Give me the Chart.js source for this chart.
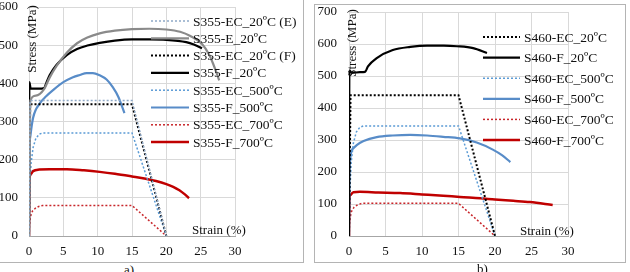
<!DOCTYPE html>
<html>
<head>
<meta charset="utf-8">
<script src="https://cdn.jsdelivr.net/npm/chart.js@4/dist/chart.umd.min.js"></script>
<style>
  body { margin: 0; background: #fff; width: 630px; height: 272px; overflow: hidden; position: relative; font-family: 'Liberation Serif', serif; }
  .box { position: absolute; border: 1px solid #b4b4b4; background: #fff; }
  .cap { position: absolute; font-size: 13px; color: #111; }
</style>
</head>
<body>
<div class="box" style="left:-10px; top:-1px; width:312px; height:262px;">
  <canvas id="chartA" width="312" height="262"></canvas>
</div>
<div class="box" style="left:314px; top:4px; width:310px; height:257px;">
  <canvas id="chartB" width="310" height="257"></canvas>
</div>
<div class="cap" style="left:124px; top:262px;">a)</div>
<div class="cap" style="left:477px; top:261px;">b)</div>

<script>
// 軸範圍
var xMax = 30, xStep = 5;
var yMaxA = 600, yMaxB = 700, yStep = 100;

// S355 曲線 [應變 %, 應力 MPa]
var S355_EC_20_E = [[0,0],[0.17,355],[15,355],[20,0]];
var S355_E_20 = [[0,0],[0.2,355],[1,368],[2.2,385],[3,415],[4,445],[5.5,480],[7,505],[8.5,520],[10.3,531],[12.5,538],[15,542],[17.5,543],[20,541],[22,535],[23.5,524],[25.2,503],[26.2,476],[26.8,452],[27.7,408]];
var S355_EC_20_F = [[0,0],[0.17,345],[15,345],[20,0]];
var S355_F_20 = [[0,0],[0.05,403],[0.25,386],[1.5,386],[2.2,388],[2.5,400],[3,421],[4,448],[5.5,474],[7,490],[8.5,499],[10.3,506],[12.5,512],[15,515],[17.5,515],[20,514],[22.9,508],[24,502],[25.2,492]];
var S355_EC_500 = [[0,0],[0.1,128],[0.3,190],[0.6,232],[1,256],[1.5,267],[2,270],[15,270],[20,0]];
var S355_F_500 = [[0,0],[0.05,200],[0.2,262],[0.6,310],[1.6,348],[2.5,366],[3.5,382],[5,403],[6.4,416],[7.4,422],[8.4,427],[9.3,427],[10.3,421],[11.3,410],[12.2,390],[13,365],[13.9,322]];
var S355_EC_700 = [[0,0],[0.05,28],[0.2,50],[0.5,65],[1,74],[1.5,78],[2,80],[15,80],[20,0]];
var S355_F_700 = [[0,0],[0.05,140],[0.2,160],[0.6,170],[1.5,174],[3,175],[5.5,175],[8,172],[10.3,168],[12.5,163],[15,156],[17,150],[18.5,144],[20,136],[21,129],[21.9,120],[22.7,109],[23.3,99]];

// S460 曲線
var S460_EC_20 = [[0,0],[0.21,440],[15,440],[20,0]];
var S460_F_20 = [[0,0],[0.05,518],[0.4,510],[1.5,512],[2.2,513],[2.6,530],[3.8,556],[6,581],[8.4,591],[10.7,595],[13,595],[14.8,593],[17,587],[18.9,572]];
var S460_EC_500 = [[0,0],[0.1,130],[0.3,230],[0.6,290],[1,325],[1.5,340],[2,344],[15,344],[20,0]];
var S460_F_500 = [[0,0],[0.05,150],[0.2,247],[0.6,274],[1.1,285],[2,297],[3.8,309],[6,314],[8.4,316],[10.7,314],[12.9,310],[15.2,305],[17.5,292],[19.7,270],[21,252],[22.1,231]];
var S460_EC_700 = [[0,0],[0.05,40],[0.3,75],[0.7,90],[1.2,98],[1.8,102],[15,102],[20,0]];
var S460_F_700 = [[0,0],[0.05,110],[0.2,128],[0.6,137],[1.5,138],[4,136],[7,134],[10,130],[12.9,126],[15.2,122],[18,118],[20,114],[22.5,110],[24.8,106],[27.9,97]];

// 線條樣式
var BLACK = '#000000', GREY = '#8a8a8a', BLUE_D = '#5b9bd5', BLUE = '#588cc8', RED_D = '#c8262b', RED = '#c00000', BLUEGREY = '#8ea9c8';
var FONT = "'Liberation Serif', 'Times New Roman', serif";

function series(label, pts, color, dotted, width) {
    return {
        label: label,
        data: pts.map(function (p) { return { x: p[0], y: p[1] }; }),
        borderColor: color,
        backgroundColor: color,
        borderWidth: width,
        borderDash: dotted ? [2, 2] : [],
        pointRadius: 0,
        fill: false,
        tension: 0,
        cubicInterpolationMode: dotted ? 'default' : 'monotone'
    };
}

//圖例與軸標題
var overlay = {
    id: 'overlay',
    afterDatasetsDraw: function (chart, args, opt) {
        var ctx = chart.ctx;
        ctx.save();
        ctx.font = '13.5px ' + FONT;
        ctx.fillStyle = '#111';
        ctx.textBaseline = 'middle';
        chart.data.datasets.forEach(function (ds, i) {
            var y = opt.legendY + i * opt.rowH;
            ctx.beginPath();
            ctx.strokeStyle = ds.borderColor;
            ctx.lineWidth = ds.borderWidth;
            ctx.setLineDash(ds.borderDash);
            ctx.moveTo(opt.legendX, y);
            ctx.lineTo(opt.legendX + opt.sampleW, y);
            ctx.stroke();
            ctx.setLineDash([]);
            ctx.textAlign = 'left';
            ctx.fillText(ds.label, opt.legendX + opt.sampleW + 4, y + 1);
        });
        ctx.font = '13px ' + FONT;
        // Strain (%)
        ctx.textAlign = 'left';
        ctx.fillText('Strain (%)', opt.strainX, opt.strainY);
        // Stress (MPa)
        ctx.translate(opt.stressX, opt.stressY);
        ctx.rotate(-Math.PI / 2);
        ctx.textAlign = 'center';
        ctx.fillText('Stress (MPa)', 0, 0);
        ctx.restore();
    }
};

function makeChart(id, datasets, yMax, yW, xH, padR, yPad, ov) {
    return new Chart(document.getElementById(id), {
        type: 'line',
        data: { datasets: datasets },
        options: {
            responsive: false,
            animation: false,
            layout: { padding: { left: 0, right: padR, top: 7, bottom: 0 } },
            plugins: { legend: { display: false }, tooltip: { enabled: false }, overlay: ov },
            scales: {
                x: {
                    type: 'linear', min: 0, max: xMax,
                    ticks: { stepSize: xStep, color: '#111', font: { family: FONT, size: 13 }, padding: 8 },
                    grid: { color: '#d9d9d9', drawTicks: false },
                    border: { color: '#a6a6a6' },
                    afterFit: function (s) { s.height = xH; s.paddingLeft = 0; s.paddingRight = 0; }
                },
                y: {
                    min: 0, max: yMax,
                    ticks: { stepSize: yStep, color: '#111', font: { family: FONT, size: 13 }, padding: yPad },
                    grid: { color: '#d9d9d9', drawTicks: false },
                    border: { display: false },
                    afterFit: function (s) { s.width = yW; s.paddingTop = 0; s.paddingBottom = 0; }
                }
            }
        },
        plugins: [overlay]
    });
}

makeChart('chartA', [
    series('S355-EC_20ºC (E)', S355_EC_20_E, BLUEGREY, true, 1.5),
    series('S355-E_20ºC', S355_E_20, GREY, false, 2.2),
    series('S355-EC_20ºC (F)', S355_EC_20_F, BLACK, true, 2),
    series('S355-F_20ºC', S355_F_20, BLACK, false, 2.2),
    series('S355-EC_500ºC', S355_EC_500, BLUE_D, true, 1.5),
    series('S355-F_500ºC', S355_F_500, BLUE, false, 2.2),
    series('S355-EC_700ºC', S355_EC_700, RED_D, true, 1.5),
    series('S355-F_700ºC', S355_F_700, RED, false, 2.5)
], yMaxA, 38, 26, 68, 11, {
    legendX: 160, legendY: 21, rowH: 17.3, sampleW: 38,
    strainX: 201, strainY: 231, stressX: 42, stressY: 39
});

makeChart('chartB', [
    series('S460-EC_20ºC', S460_EC_20, BLACK, true, 2),
    series('S460-F_20ºC', S460_F_20, BLACK, false, 2.2),
    series('S460-EC_500ºC', S460_EC_500, BLUE_D, true, 1.5),
    series('S460-F_500ºC', S460_F_500, BLUE, false, 2.2),
    series('S460-EC_700ºC', S460_EC_700, RED_D, true, 1.5),
    series('S460-F_700ºC', S460_F_700, RED, false, 2.5)
], yMaxB, 34, 26, 57, 12, {
    legendX: 168, legendY: 32, rowH: 20.6, sampleW: 37,
    strainX: 205, strainY: 227, stressX: 38, stressY: 38
});
</script>
</body>
</html>
